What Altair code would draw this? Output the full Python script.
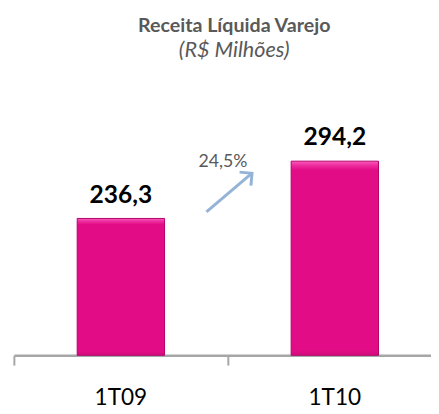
import altair as alt
import pandas as pd

# ---- data ----
categories = ["1T09", "1T10"]
values = [236.3, 294.2]
value_labels = ["236,3", "294,2"]
growth_label = "24,5%"
# growth arrow annotation, in chart units (x: category-index space 0..2, y: R$ milhões)
arrow_x = [0.90, 1.113]
arrow_y = [243.0, 282.0]
growth_x = [0.977]
growth_y = [288.5]

bars_df = pd.DataFrame({"periodo": categories, "receita": values, "rotulo": value_labels})
arrow_df = pd.DataFrame({"x": [arrow_x[0]], "x2": [arrow_x[1]], "y": [arrow_y[0]], "y2": [arrow_y[1]]})
head_df = pd.DataFrame({"x": [arrow_x[1]], "y": [arrow_y[1]]})
pct_df = pd.DataFrame({"x": growth_x, "y": growth_y, "t": [growth_label]})

Y_MIN, Y_MAX = 98, 346
y_scale = alt.Scale(domain=[Y_MIN, Y_MAX], zero=False, nice=False)
x_band = alt.Scale(domain=categories, range=[0, 436], paddingInner=0, paddingOuter=0)
x_lin = alt.Scale(domain=[0, 2], range=[0, 436], nice=False, zero=False)

fill = alt.Gradient(
    gradient="linear", x1=0, y1=0, x2=0, y2=1,
    stops=[
        alt.GradientStop(offset=0, color="#F75DBC"),
        alt.GradientStop(offset=0.02, color="#EE2FA0"),
        alt.GradientStop(offset=0.045, color="#E20D86"),
        alt.GradientStop(offset=0.97, color="#E20D86"),
        alt.GradientStop(offset=1, color="#D40A7E"),
    ],
)

bars = alt.Chart(bars_df).mark_bar(width=89, fill=fill, stroke="#B3006A", strokeWidth=1).encode(
    x=alt.X("periodo:N", scale=x_band, sort=categories,
            axis=alt.Axis(title=None, bandPosition=0, domainColor="#A6A6A6", domainWidth=2.5,
                          tickColor="#A6A6A6", tickWidth=2, tickSize=10,
                          labelFont="Lato", labelFontSize=23, labelColor="#000000",
                          labelPadding=22, labelAngle=0, grid=False)),
    y=alt.Y("receita:Q", scale=y_scale, axis=None),
    y2=alt.datum(Y_MIN),
)

labels = alt.Chart(bars_df).mark_text(font="Lato", fontWeight="bold", fontSize=25,
                                      baseline="alphabetic", dy=-16, color="#000000").encode(
    x=alt.X("periodo:N", scale=x_band, sort=categories, axis=None),
    y=alt.Y("receita:Q", scale=y_scale, axis=None),
    text="rotulo:N",
)

arrow = alt.Chart(arrow_df).mark_rule(color="#95B3D7", strokeWidth=3).encode(
    x=alt.X("x:Q", scale=x_lin, axis=None), x2="x2:Q",
    y=alt.Y("y:Q", scale=y_scale, axis=None), y2="y2:Q",
)

head = alt.Chart(head_df).mark_point(shape="M-1,1L0,0L1,1", filled=False, size=324,
                                     strokeWidth=3, color="#95B3D7", angle=50, opacity=1).encode(
    x=alt.X("x:Q", scale=x_lin, axis=None),
    y=alt.Y("y:Q", scale=y_scale, axis=None),
)

pct = alt.Chart(pct_df).mark_text(font="Lato", fontSize=18, color="#595959",
                                  baseline="alphabetic", align="center").encode(
    x=alt.X("x:Q", scale=x_lin, axis=None),
    y=alt.Y("y:Q", scale=y_scale, axis=None),
    text="t:N",
)

chart = alt.layer(bars, labels, arrow, head, pct).resolve_scale(x="independent").properties(
    width=425, height=250,
    title=alt.Title("Receita Líquida Varejo", subtitle="(R$ Milhões)",
                    font="Lato", fontSize=20, fontWeight="bold", color="#595959",
                    subtitleFont="Lato", subtitleFontSize=22, subtitleFontStyle="italic",
                    subtitleColor="#595959", anchor="middle", dx=12, offset=50,
                    subtitlePadding=4),
    autosize=alt.AutoSizeParams(type="none"),
    padding={"left": 6, "top": 100, "right": 0, "bottom": 56},
).configure_view(stroke=None)

chart.save("out.html", embed_options={"renderer": "svg", "actions": False})
